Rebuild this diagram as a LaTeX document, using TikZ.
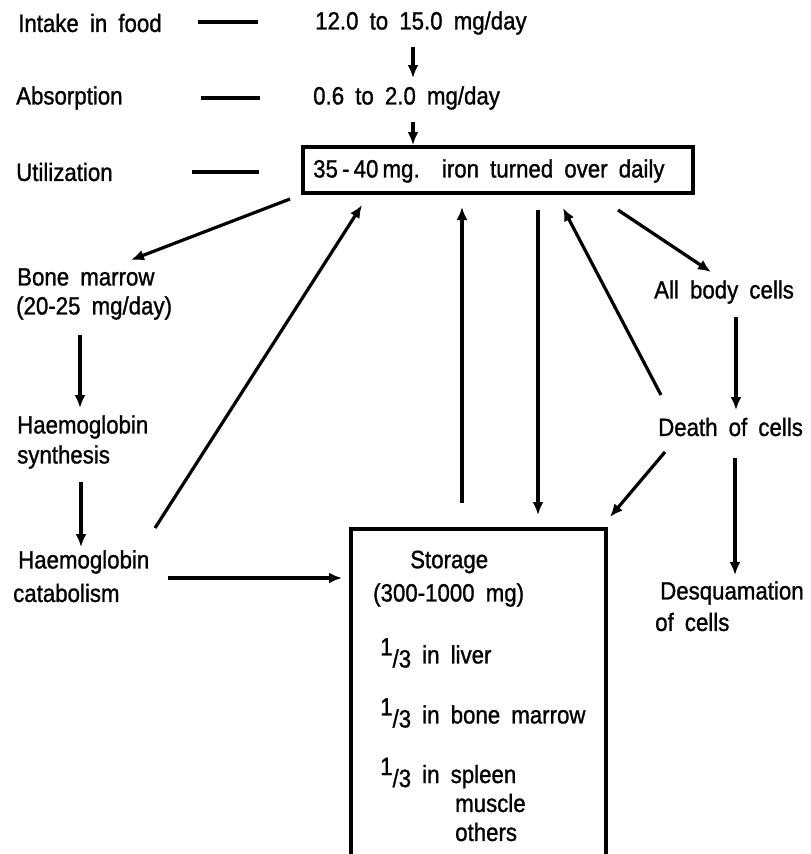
\documentclass[tikz,border=0pt]{standalone}
\usepackage{fontspec}
\setmainfont[FakeBold=1.1,FakeStretch=0.89,WordSpace=1.8]{Liberation Sans}
\usetikzlibrary{arrows.meta}
\begin{document}
\begin{tikzpicture}[x=1pt,y=-1pt,
  lbl/.style={anchor=west,inner sep=0pt,font=\fontsize{25}{29}\selectfont},
  conn/.style={line width=3.2pt},
  arr/.style={conn,-{Latex[length=13pt,width=11pt]}},
  boxst/.style={draw,line width=3.8pt,inner sep=0pt}]
\useasboundingbox (0,0) rectangle (811,854);
\newcommand{\third}{{\raisebox{8pt}{1}\raisebox{-4pt}{/3}}}
% top rows
\node[lbl] (intake) at (18,23) {Intake in food};
\node[lbl] (food) at (315,23) {12.0 to 15.0 mg/day};
\node[lbl] (absn) at (16,98) {Absorption};
\node[lbl] (absv) at (313,98) {0.6 to 2.0 mg/day};
\node[lbl] (util) at (16,172) {Utilization};
\node[boxst,minimum width=390pt,minimum height=46pt] (turn) at (498,170) {};
\node[lbl] (turntext) at (313,171) {35\,-\,40\,mg.\ \ iron turned over daily};
% left column
\node[lbl] (bm1) at (17,277) {Bone marrow};
\node[lbl] (bm2) at (16,308) {(20-25 mg/day)};
\node[lbl] (hs1) at (17,427) {Haemoglobin};
\node[lbl] (hs2) at (17,457) {synthesis};
\node[lbl] (hc1) at (18,562) {Haemoglobin};
\node[lbl] (hc2) at (13,593) {catabolism};
% right column
\node[lbl] (abc) at (654,292) {All body cells};
\node[lbl] (death) at (658,427) {Death of cells};
\node[lbl] (dq1) at (660,593) {Desquamation};
\node[lbl] (dq2) at (655,622) {of cells};
% storage
\node[boxst,minimum width=255pt,minimum height=340pt] (store) at (478.5,699) {};
\node[lbl] (st1) at (410,562) {Storage};
\node[lbl] (st2) at (373,595) {(300-1000 mg)};
\node[lbl] (st3) at (380,653) {\third\ in liver};
\node[lbl] (st4) at (380,713) {\third\ in bone marrow};
\node[lbl] (st5) at (380,773) {\third\ in spleen};
\node[lbl] (st6) at (455,803) {muscle};
\node[lbl] (st7) at (455,832) {others};
% dashes
\coordinate (d1a) at (198,22); \coordinate (d1b) at (258,22);
\coordinate (d2a) at (201,98); \coordinate (d2b) at (260,98);
\coordinate (d3a) at (192,172); \coordinate (d3b) at (259,172);
\draw[conn] (d1a) -- (d1b);
\draw[conn] (d2a) -- (d2b);
\draw[conn] (d3a) -- (d3b);
% arrow end points
\coordinate (a1s) at (413,47);  \coordinate (a1e) at (413,78);
\coordinate (a2s) at (413,122); \coordinate (a2e) at (turn.north -| 413,0);
\coordinate (bms) at (290,199); \coordinate (bme) at (131,260);
\coordinate (hcs) at (155,528); \coordinate (hce) at (362,205);
\coordinate (ups) at (462,503); \coordinate (upe) at (462,207);
\coordinate (dns) at (538,210); \coordinate (dne) at (538,515);
\coordinate (dbs) at (661,395); \coordinate (dbe) at (563,208);
\coordinate (abs) at (618,210); \coordinate (abe) at (711,272);
\coordinate (b2s) at (80,335);  \coordinate (b2e) at (80,408);
\coordinate (h2s) at (81,482);  \coordinate (h2e) at (81,547);
\coordinate (a3s) at (736,317); \coordinate (a3e) at (736,410);
\coordinate (dss) at (665,452); \coordinate (dse) at (610,517);
\coordinate (dqs) at (735,458); \coordinate (dqe) at (735,575);
\coordinate (cas) at (168,578); \coordinate (cae) at (342,578);
\draw[arr] (a1s) -- (a1e);
\draw[arr] (a2s) -- (a2e);
\draw[arr] (bms) -- (bme);
\draw[arr] (hcs) -- (hce);
\draw[arr] (ups) -- (upe);
\draw[arr] (dns) -- (dne);
\draw[arr] (dbs) -- (dbe);
\draw[arr] (abs) -- (abe);
\draw[arr] (b2s) -- (b2e);
\draw[arr] (h2s) -- (h2e);
\draw[arr] (a3s) -- (a3e);
\draw[arr] (dss) -- (dse);
\draw[arr] (dqs) -- (dqe);
\draw[arr] (cas) -- (cae);
\end{tikzpicture}
\end{document}
